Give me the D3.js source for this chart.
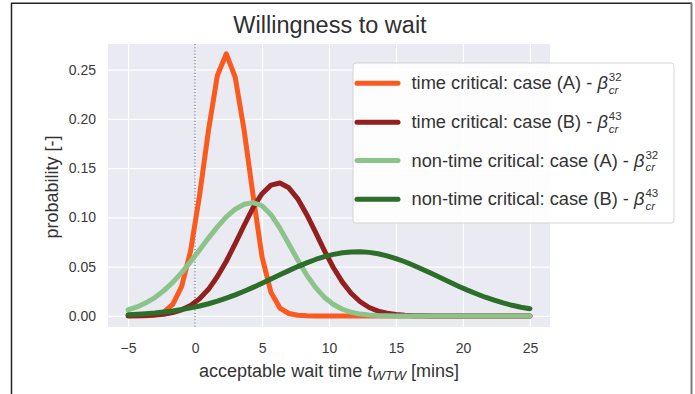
<!DOCTYPE html>
<html><head><meta charset="utf-8">
<script src="https://cdn.jsdelivr.net/npm/d3@7"></script>
<style>
html,body{margin:0;padding:0;background:#fff;}
svg{display:block;font-family:"Liberation Sans",Arial,sans-serif;}
</style></head>
<body>
<svg id="chart" width="695" height="394"></svg>
<script>
// ---- data ----
const waitTimes = [-5, -4.333, -3.667, -3, -2.333, -1.667, -1, -0.333, 0.333, 1, 1.667, 2.333, 3, 3.667, 4.333, 5, 5.667, 6.333, 7, 7.667, 8.333, 9, 9.667, 10.333, 11, 11.667, 12.333, 13, 13.667, 14.333, 15, 15.667, 16.333, 17, 17.667, 18.333, 19, 19.667, 20.333, 21, 21.667, 22.333, 23, 23.667, 24.333, 25];
const timeCriticalA = [0, 0.0001, 0.0002, 0.001, 0.0038, 0.0117, 0.030, 0.066, 0.122, 0.188, 0.244, 0.266, 0.242, 0.188, 0.122, 0.060, 0.024, 0.008, 0.0025, 0.0008, 0.0002, 0, 0, 0, 0, 0, 0, 0, 0, 0, 0, 0, 0, 0, 0, 0, 0, 0, 0, 0, 0, 0, 0, 0, 0, 0];
const timeCriticalB = [0.0001, 0.0002, 0.0004, 0.0009, 0.0018, 0.0034, 0.0062, 0.0107, 0.0175, 0.027, 0.040, 0.0555, 0.0734, 0.092, 0.110, 0.124, 0.1327, 0.1349, 0.130, 0.1188, 0.103, 0.0847, 0.066, 0.0489, 0.0343, 0.0228, 0.0144, 0.0086, 0.0049, 0.0027, 0.0014, 0.0007, 0.0003, 0.0001, 0, 0, 0, 0, 0, 0, 0, 0, 0, 0, 0, 0];
const nonTimeCriticalA = [0.0061, 0.0091, 0.0133, 0.0187, 0.0257, 0.0341, 0.044, 0.0551, 0.067, 0.079, 0.0904, 0.1005, 0.1083, 0.1133, 0.115, 0.1118, 0.1027, 0.0891, 0.0731, 0.0567, 0.0415, 0.0287, 0.0188, 0.0116, 0.0068, 0.0037, 0.0019, 0.0009, 0.0004, 0.0002, 0, 0, 0, 0, 0, 0, 0, 0, 0, 0, 0, 0, 0, 0, 0, 0];
const nonTimeCriticalB = [0.0013, 0.0017, 0.0023, 0.0030, 0.0040, 0.0051, 0.0065, 0.0082, 0.0101, 0.0124, 0.0151, 0.0181, 0.0214, 0.0251, 0.029, 0.0331, 0.0374, 0.0417, 0.046, 0.0501, 0.0539, 0.0573, 0.0602, 0.0625, 0.0641, 0.065, 0.0652, 0.0645, 0.0631, 0.061, 0.0582, 0.055, 0.0512, 0.0472, 0.043, 0.0387, 0.0344, 0.0302, 0.0262, 0.0225, 0.019, 0.016, 0.0132, 0.0108, 0.0088, 0.0074];
const seriesLabels = ["time critical: case (A) - ", "time critical: case (B) - ", "non-time critical: case (A) - ", "non-time critical: case (B) - "];
const seriesSup = ["32", "43", "32", "43"];
const xTicks = [-5, 0, 5, 10, 15, 20, 25];
const yTicks = [0, 0.05, 0.10, 0.15, 0.20, 0.25];
const titleText = "Willingness to wait";
const yLabelText = "probability [-]";

// ---- styles ----
const colors = ["#fa5a1e", "#93201e", "#8cc38a", "#2c6e2a"];
const seriesData = [timeCriticalA, timeCriticalB, nonTimeCriticalA, nonTimeCriticalB];

const svg = d3.select("#chart");
const L = 108, R = 550, T = 44, B = 327;
const x = d3.scaleLinear().domain([-6.5, 26.5]).range([L, R]);
const y = d3.scaleLinear().domain([-0.0112, 0.2759]).range([B, T]);

// outer frame
svg.append("line").attr("x1", 11.5).attr("x2", 11.5).attr("y1", 3).attr("y2", 394).attr("stroke", "#222").attr("stroke-width", 1.5);
svg.append("line").attr("x1", 11).attr("x2", 692).attr("y1", 3.3).attr("y2", 3.3).attr("stroke", "#222").attr("stroke-width", 1.5);
svg.append("line").attr("x1", 691.5).attr("x2", 691.5).attr("y1", 3).attr("y2", 394).attr("stroke", "#7a7a7a").attr("stroke-width", 2);

// plot background
svg.append("rect").attr("x", L).attr("y", T).attr("width", R - L).attr("height", B - T).attr("fill", "#eaeaf2");

// grid
const xAxis = d3.axisBottom(x).tickValues(xTicks).tickSize(-(B - T)).tickPadding(16)
  .tickFormat(d => d < 0 ? "\u2212" + Math.abs(d) : String(d));
const gx = svg.append("g").attr("transform", `translate(0,${B})`).call(xAxis);
gx.select(".domain").remove();
gx.selectAll(".tick line").attr("stroke", "#fff").attr("stroke-width", 1.2);
gx.selectAll(".tick text").attr("fill", "#3a3a3a").attr("font-size", 14).attr("dy", "0.71em")
  .attr("font-family", "Liberation Sans, Arial, sans-serif");

const yAxis = d3.axisLeft(y).tickValues(yTicks).tickSize(-(R - L)).tickPadding(12).tickFormat(d3.format(".2f"));
const gy = svg.append("g").attr("transform", `translate(${L},0)`).call(yAxis);
gy.select(".domain").remove();
gy.selectAll(".tick line").attr("stroke", "#fff").attr("stroke-width", 1.2);
gy.selectAll(".tick text").attr("fill", "#3a3a3a").attr("font-size", 14)
  .attr("font-family", "Liberation Sans, Arial, sans-serif");

// dotted zero line
svg.append("line").attr("x1", x(0)).attr("x2", x(0)).attr("y1", T).attr("y2", B)
  .attr("stroke", "#4a5578").attr("stroke-width", 1).attr("stroke-dasharray", "1.2,2");

// curves
const line = d3.line().x((d, i) => x(waitTimes[i])).y(d => y(d));
seriesData.forEach((s, i) => {
  svg.append("path").datum(s).attr("d", line).attr("fill", "none")
    .attr("stroke", colors[i]).attr("stroke-width", 5)
    .attr("stroke-linejoin", "round").attr("stroke-linecap", "round");
});

// title
svg.append("text").attr("x", 330).attr("y", 33).attr("text-anchor", "middle")
  .attr("font-size", 23.5).attr("fill", "#303030").text(titleText);

// x label
const xl = svg.append("text").attr("x", 329).attr("y", 377).attr("text-anchor", "middle")
  .attr("font-size", 18).attr("fill", "#333");
xl.append("tspan").text("acceptable wait time ");
xl.append("tspan").attr("font-style", "italic").text("t");
xl.append("tspan").attr("font-style", "italic").attr("font-size", 13.5).attr("dy", 3).text("WTW");
xl.append("tspan").attr("dy", -3).text(" [mins]");

// y label
svg.append("text").attr("transform", "translate(58,187) rotate(-90)").attr("text-anchor", "middle")
  .attr("font-size", 18).attr("fill", "#333").text(yLabelText);

// legend
const lg = svg.append("g");
lg.append("rect").attr("x", 353).attr("y", 63).attr("width", 321).attr("height", 160).attr("rx", 3)
  .attr("fill", "#fff").attr("fill-opacity", 0.88).attr("stroke", "#d4d4d4").attr("stroke-width", 1);
const rowY = [83.3, 122.3, 160.5, 199.3];
seriesLabels.forEach((lab, i) => {
  const yy = rowY[i];
  lg.append("line").attr("x1", 357).attr("x2", 398).attr("y1", yy).attr("y2", yy)
    .attr("stroke", colors[i]).attr("stroke-width", 5).attr("stroke-linecap", "round");
  const t = lg.append("text").attr("x", 411.5).attr("y", yy + 6).attr("font-size", 18.3).attr("fill", "#333");
  t.append("tspan").text(lab);
  t.append("tspan").attr("font-style", "italic").text("\u03b2");
  const len = t.node().getComputedTextLength();
  const sx = 411.5 + len + 1;
  lg.append("text").attr("x", sx).attr("y", yy - 2).attr("font-size", 11.5).attr("fill", "#333").text(seriesSup[i]);
  lg.append("text").attr("x", sx).attr("y", yy + 10.8).attr("font-size", 11.5).attr("font-style", "italic").attr("fill", "#333").text("cr");
});
</script>
</body></html>
